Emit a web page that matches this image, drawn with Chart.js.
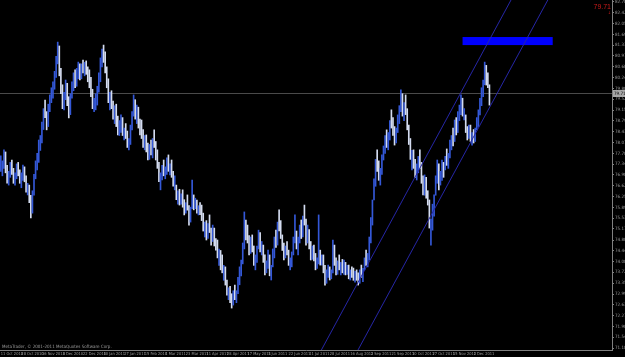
<!DOCTYPE html>
<html>
<head>
<meta charset="utf-8">
<script src="https://cdn.jsdelivr.net/npm/chart.js@4.4.1/dist/chart.umd.min.js"></script>
<style>
  html, body { margin: 0; padding: 0; background: #000; overflow: hidden; }
  canvas { display: block; }
</style>
</head>
<body>
<canvas id="chart" width="625" height="357"></canvas>
<script>
// daily bars, first one on 11 Oct 2010, last on 16 Dec 2011
const startDate = '2010-10-11';
const totalSlots = 387;      // bars + empty space to the right
const labelEvery = 13;

const highs = [
  77.62,77.45,77.82,77.75,77.30,77.10,77.40,
  77.48,77.20,77.05,77.35,77.40,77.15,
  77.05,77.31,77.25,76.95,76.70,
  76.64,76.30,76.45,
  77.00,77.45,77.70,78.15,78.30,
  78.75,79.20,79.49,
  79.10,79.35,79.66,
  79.90,80.10,80.45,
  80.95,81.43,81.30,
  80.55,80.00,79.75,
  80.16,80.05,79.60,79.70,
  80.10,80.40,80.50,
  80.55,80.76,80.70,
  80.70,80.83,80.75,80.80,80.60,80.50,80.25,
  79.85,79.55,79.70,
  79.95,80.40,80.90,
  81.20,81.33,81.10,
  80.60,80.20,79.75,
  79.80,79.45,79.30,79.35,78.95,78.80,
  78.99,78.90,78.55,78.70,
  78.45,78.20,78.65,
  79.10,79.66,79.50,
  79.32,79.25,78.85,
  78.82,78.50,78.30,
  78.32,78.05,78.00,78.15,
  78.20,78.49,78.10,
  77.82,77.40,77.05,
  77.30,77.48,77.25,
  77.55,77.65,77.35,
  77.48,77.10,76.95,
  76.64,76.45,76.50,76.35,
  76.48,76.15,76.05,
  76.31,75.95,75.90,
  76.81,76.31,76.20,
  76.14,75.95,76.05,
  75.97,75.70,75.40,75.45,
  75.35,75.64,75.20,
  75.30,75.20,74.85,
  74.80,74.50,74.45,
  74.30,73.95,73.90,
  73.46,73.20,73.25,73.00,
  73.10,73.29,73.10,
  73.55,73.90,74.13,
  74.70,75.74,75.47,
  75.30,74.95,74.90,
  74.97,74.60,74.30,74.60,
  75.13,75.05,74.75,
  74.63,74.30,74.10,
  74.46,74.30,73.95,
  74.50,74.90,75.13,
  75.40,75.81,75.45,
  74.97,74.70,74.60,74.75,
  74.46,74.20,74.40,
  74.90,75.64,75.10,
  74.90,75.30,75.47,
  75.60,75.97,75.50,
  75.30,75.15,74.75,74.60,
  74.63,74.35,74.20,
  75.64,74.46,74.30,
  74.30,73.95,73.80,
  73.96,73.90,73.80,
  74.80,74.63,74.20,74.10,
  74.30,74.05,74.15,
  74.13,74.05,73.95,
  73.96,73.80,73.90,
  73.86,73.75,73.80,
  73.70,73.80,73.96,73.85,
  74.20,74.46,74.35,
  74.90,75.55,76.14,
  76.85,77.50,77.82,
  77.45,77.20,77.65,
  77.95,78.30,78.49,
  78.40,78.80,79.16,78.90,
  78.60,78.55,78.99,
  79.30,79.83,79.70,
  79.40,79.66,79.20,
  78.65,78.20,77.80,
  77.82,77.50,77.35,77.60,
  77.82,77.40,76.95,
  76.98,76.90,76.45,
  76.14,75.50,
  76.00,76.31,
  76.95,77.48,77.35,
  77.10,77.48,77.40,
  77.60,77.85,77.70,78.15,
  78.30,78.55,78.82,
  78.90,79.10,79.32,
  79.66,79.55,79.20,
  78.99,78.60,78.65,
  78.65,78.40,78.50,78.55,
  78.90,79.16,
  79.55,79.90,80.16,
  80.76,80.65,80.40,
  80.00
];

const lows = [
  77.10,76.95,77.20,77.05,76.70,76.64,76.90,
  77.00,76.70,76.64,76.85,76.95,76.70,
  76.55,76.80,76.75,76.40,76.31,
  76.05,75.54,75.70,
  76.30,76.85,77.15,77.40,77.80,
  78.05,78.50,78.90,
  78.49,78.60,79.10,
  79.40,79.55,79.85,
  80.25,80.70,80.30,
  79.70,79.20,79.16,
  79.50,79.30,78.89,79.00,
  79.55,79.80,79.90,
  79.95,80.20,80.16,
  80.20,80.40,80.30,80.35,80.10,79.90,79.60,
  79.20,79.10,79.16,
  79.32,79.75,80.10,
  80.60,80.75,80.40,
  79.90,79.40,79.16,
  79.20,78.85,78.70,78.60,78.32,78.30,
  78.40,78.30,78.15,78.20,
  77.90,77.82,78.00,
  78.49,78.95,78.85,
  78.70,78.55,78.32,
  78.20,77.90,77.82,
  77.75,77.48,77.50,77.65,
  77.55,77.90,77.48,
  77.20,76.75,76.48,
  76.81,76.95,76.85,
  77.00,77.10,76.98,
  76.90,76.60,76.48,
  76.15,76.00,75.97,76.00,
  75.90,75.64,75.70,
  75.80,75.30,75.40,
  75.85,75.81,75.85,
  75.70,75.64,75.65,
  75.45,75.10,74.90,74.80,
  74.85,75.05,74.63,
  74.75,74.60,74.46,
  74.20,73.95,73.80,
  73.70,73.45,73.29,
  72.95,72.80,72.70,72.52,
  72.62,72.80,72.70,
  73.00,73.30,73.60,
  74.00,74.50,74.80,
  74.70,74.30,74.35,
  74.40,73.95,73.80,74.05,
  74.50,74.40,74.30,
  74.05,73.63,73.70,
  73.85,73.60,73.46,
  73.90,74.20,74.55,
  74.63,75.10,74.85,
  74.45,74.13,74.20,74.30,
  73.95,73.80,73.90,
  74.30,74.70,74.50,
  74.30,74.70,74.85,
  74.90,75.30,74.63,
  74.70,74.50,74.13,74.15,
  74.10,73.80,73.85,
  74.00,73.96,73.96,
  73.70,73.29,73.35,
  73.55,73.46,73.50,
  73.70,73.95,73.63,73.65,
  73.80,73.63,73.70,
  73.65,73.63,73.65,
  73.50,73.46,73.55,
  73.45,73.39,73.45,
  73.29,73.35,73.55,73.40,
  73.80,73.95,73.90,
  74.13,74.70,75.30,
  76.14,76.60,77.10,
  76.80,76.64,77.00,
  77.48,77.70,77.90,
  77.82,78.15,78.55,78.30,
  77.98,78.05,78.40,
  78.70,79.10,78.95,
  78.80,79.00,78.49,
  78.00,77.50,77.15,
  77.20,76.90,76.81,77.05,
  77.20,76.70,76.31,
  76.30,76.20,75.97,
  75.20,74.63,
  75.13,75.60,
  76.30,76.70,76.48,
  76.64,76.80,76.90,
  77.15,77.30,77.20,77.55,
  77.82,77.95,78.10,
  78.32,78.40,78.80,
  79.00,78.95,78.82,
  78.40,78.15,78.20,
  78.10,77.98,78.05,78.10,
  78.49,78.60,
  78.99,79.30,79.60,
  80.00,79.99,79.90,
  79.32
];

const closes = [
  77.25,77.30,77.70,77.15,76.85,77.00,77.25,
  77.10,76.90,76.95,77.20,77.05,76.80,
  76.95,77.20,76.85,76.50,76.60,
  76.15,75.80,76.35,
  76.90,77.35,77.55,78.00,78.10,
  78.65,79.05,79.00,
  78.70,79.25,79.50,
  79.80,80.00,80.35,
  80.85,81.20,80.45,
  79.85,79.40,79.65,
  80.00,79.40,79.10,79.60,
  79.95,80.30,80.05,
  80.45,80.60,80.30,
  80.60,80.55,80.70,80.45,80.20,80.05,79.70,
  79.35,79.45,79.60,
  79.85,80.25,80.80,
  81.05,80.95,80.50,
  80.05,79.50,79.65,
  79.30,79.05,79.20,78.75,78.45,78.65,
  78.85,78.40,78.45,78.30,
  78.00,78.10,78.55,
  79.00,79.40,78.95,
  79.20,78.65,78.50,
  78.30,78.05,78.20,
  77.85,77.60,77.90,77.75,
  78.10,78.00,77.60,
  77.30,76.90,76.95,
  77.20,77.05,77.15,
  77.45,77.20,77.25,
  77.00,76.70,76.85,
  76.25,76.35,76.10,76.20,
  76.00,75.75,75.95,
  75.90,75.45,75.80,
  76.20,75.95,76.10,
  75.80,75.85,75.75,
  75.55,75.25,75.30,74.95,
  75.20,75.10,74.80,
  75.15,74.70,74.60,
  74.30,74.40,73.95,
  73.80,73.85,73.40,
  73.05,73.10,72.85,72.70,
  73.00,72.90,73.05,
  73.45,73.80,74.05,
  74.60,75.30,74.95,
  74.85,74.45,74.80,
  74.50,74.10,74.20,74.50,
  74.95,74.55,74.65,
  74.15,73.80,74.00,
  74.30,73.70,73.85,
  74.40,74.80,74.65,
  75.30,75.25,74.95,
  74.55,74.30,74.50,74.40,
  74.05,74.10,74.30,
  74.80,74.95,74.60,
  74.80,75.20,74.95,
  75.50,75.40,74.80,
  75.10,74.60,74.30,74.50,
  74.20,73.95,74.10,
  74.40,74.05,74.20,
  73.80,73.45,73.70,
  73.85,73.55,73.75,
  74.20,74.05,73.75,74.00,
  73.90,73.95,73.80,
  74.00,73.75,73.85,
  73.60,73.70,73.65,
  73.55,73.70,73.50,
  73.40,73.75,73.60,73.80,
  74.10,74.05,74.30,
  74.80,75.40,76.00,
  76.75,77.40,77.30,
  76.95,77.10,77.55,
  77.85,78.20,78.00,
  78.30,78.70,78.65,78.45,
  78.10,78.45,78.90,
  79.20,79.55,79.05,
  79.30,79.10,78.60,
  78.10,77.60,77.70,
  77.35,77.00,77.25,77.45,
  77.30,76.80,76.50,
  76.85,76.30,76.10,
  75.30,75.40,
  75.90,76.20,
  76.85,77.20,76.65,
  76.95,77.30,77.05,
  77.50,77.40,77.65,78.05,
  78.20,78.00,78.70,
  78.45,79.00,79.20,
  79.50,79.05,79.10,
  78.50,78.30,78.55,
  78.20,78.30,78.15,78.45,
  78.80,79.05,
  79.45,79.80,80.05,
  80.60,80.15,79.95,
  79.71
];

const yTicks = [
  82.78, 82.42, 82.05, 81.69, 81.33, 80.97, 80.60, 80.24, 79.88, 79.52, 79.15,
  78.79, 78.43, 78.07, 77.70, 77.34, 76.98, 76.62, 76.25, 75.89, 75.53, 75.17,
  74.80, 74.44, 74.08, 73.72, 73.35, 72.99, 72.63, 72.27, 71.90, 71.54, 71.18
];
const yMin = 71.115;
const yMax = 82.84;

const bidPrice = 79.71;
// channel lines: [bar index, price] anchors
const channelUpper = [[200, 70.85], [330, 83.56]];
const channelLower = [[225, 71.03], [350, 83.24]];
// blue rectangle object: bar index range and price range
const boxFrom = 292, boxTo = 349, boxTop = 81.60, boxBottom = 81.33;

const copyright = 'MetaTrader, \u00a9 2001-2011 MetaQuotes Software Corp.';

const upColor = '#3458d8';
const downColor = '#d4dcf0';
const axisColor = '#808080';
const textColor = '#9a9a9a';
const narrowFamily = '"Liberation Sans Narrow", "DejaVu Sans Condensed", "Liberation Sans", sans-serif';
const tinyFont = { family: narrowFamily, size: 4.5 };
const dateFont = { family: narrowFamily, size: 4 };

// weekday dates for the category axis
const months = ['Jan','Feb','Mar','Apr','May','Jun','Jul','Aug','Sep','Oct','Nov','Dec'];
const dates = [];
let d = new Date(startDate + 'T00:00:00Z');
while (dates.length < totalSlots) {
  const wd = d.getUTCDay();
  if (wd !== 0 && wd !== 6) {
    dates.push(d.getUTCDate() + ' ' + months[d.getUTCMonth()] + ' ' + d.getUTCFullYear());
  }
  d.setUTCDate(d.getUTCDate() + 1);
}

const ranges = lows.map((l, i) => [l, highs[i]]);
const barColors = closes.map((c, i) => (i === 0 || c >= closes[i - 1]) ? upColor : downColor);

const toPoints = anchors => anchors.map(a => ({ x: dates[a[0]], y: a[1] }));

const overlay = {
  id: 'overlay',
  beforeDatasetsDraw(chart) {
    const { ctx, chartArea, scales } = chart;
    const x = scales.x, y = scales.y;
    ctx.save();
    // bid line
    const by = Math.round(y.getPixelForValue(bidPrice)) + 0.5;
    ctx.strokeStyle = '#4a4a4a';
    ctx.lineWidth = 1;
    ctx.beginPath();
    ctx.moveTo(chartArea.left, by);
    ctx.lineTo(chartArea.right, by);
    ctx.stroke();
    // rectangle object
    const x0 = x.getPixelForValue(boxFrom);
    const x1 = x.getPixelForValue(boxTo);
    const y0 = y.getPixelForValue(boxTop);
    const y1 = y.getPixelForValue(boxBottom);
    ctx.fillStyle = '#0000ff';
    ctx.fillRect(x0, y0, x1 - x0, y1 - y0);
    ctx.restore();
  },
  afterDraw(chart) {
    const { ctx, chartArea, scales } = chart;
    const y = scales.y;
    ctx.save();
    // bid price label on the axis
    const by = Math.round(y.getPixelForValue(bidPrice));
    ctx.fillStyle = '#a8a8a8';
    ctx.fillRect(chartArea.right + 1, by - 3, 12, 7);
    ctx.fillStyle = '#000';
    ctx.font = '4.5px ' + narrowFamily;
    ctx.textBaseline = 'middle';
    ctx.textAlign = 'left';
    ctx.fillText(bidPrice.toFixed(2), chartArea.right + 2, by + 0.5);
    // price readout in the corner
    ctx.fillStyle = '#cc1a1a';
    ctx.font = '7px "Liberation Sans"';
    ctx.textAlign = 'right';
    ctx.textBaseline = 'alphabetic';
    ctx.fillText(bidPrice.toFixed(2), 611, 9);
    ctx.font = '4px "DejaVu Sans"';
    ctx.fillText('\u2193', 611, 14);
    // copyright
    ctx.fillStyle = textColor;
    ctx.font = '4.5px ' + narrowFamily;
    ctx.textAlign = 'left';
    ctx.fillText(copyright, 2, 348);
    ctx.restore();
  }
};

new Chart(document.getElementById('chart'), {
  type: 'bar',
  data: {
    labels: dates,
    datasets: [
      {
        type: 'bar',
        data: ranges,
        backgroundColor: barColors,
        barThickness: 1,
        order: 2
      },
      {
        type: 'line',
        data: toPoints(channelUpper),
        borderColor: '#2626a6',
        borderWidth: 1,
        pointRadius: 0,
        order: 1
      },
      {
        type: 'line',
        data: toPoints(channelLower),
        borderColor: '#2626a6',
        borderWidth: 1,
        pointRadius: 0,
        order: 1
      }
    ]
  },
  options: {
    responsive: false,
    animation: false,
    layout: { padding: 0 },
    plugins: { legend: { display: false }, tooltip: { enabled: false } },
    scales: {
      x: {
        offset: true,
        grid: { display: false, drawTicks: false },
        border: { display: true, color: axisColor },
        ticks: {
          autoSkip: false,
          maxRotation: 0,
          minRotation: 0,
          align: 'start',
          padding: 1.5,
          color: textColor,
          font: dateFont,
          callback: (v, i) => (i % labelEvery === 0 && i < closes.length) ? dates[i] : ''
        },
        afterFit: s => { s.height = 7; s.paddingLeft = 0; s.paddingRight = 0; }
      },
      y: {
        position: 'right',
        min: yMin,
        max: yMax,
        afterBuildTicks: s => { s.ticks = yTicks.map(v => ({ value: v })); },
        afterFit: s => { s.width = 13; s.paddingTop = 0; s.paddingBottom = 0; },
        grid: { display: true, drawOnChartArea: false, tickLength: 2, color: axisColor },
        border: { display: true, color: axisColor },
        ticks: {
          autoSkip: false,
          padding: 1,
          color: textColor,
          font: tinyFont,
          callback: v => v.toFixed(2)
        }
      }
    }
  },
  plugins: [overlay]
});
</script>
</body>
</html>
